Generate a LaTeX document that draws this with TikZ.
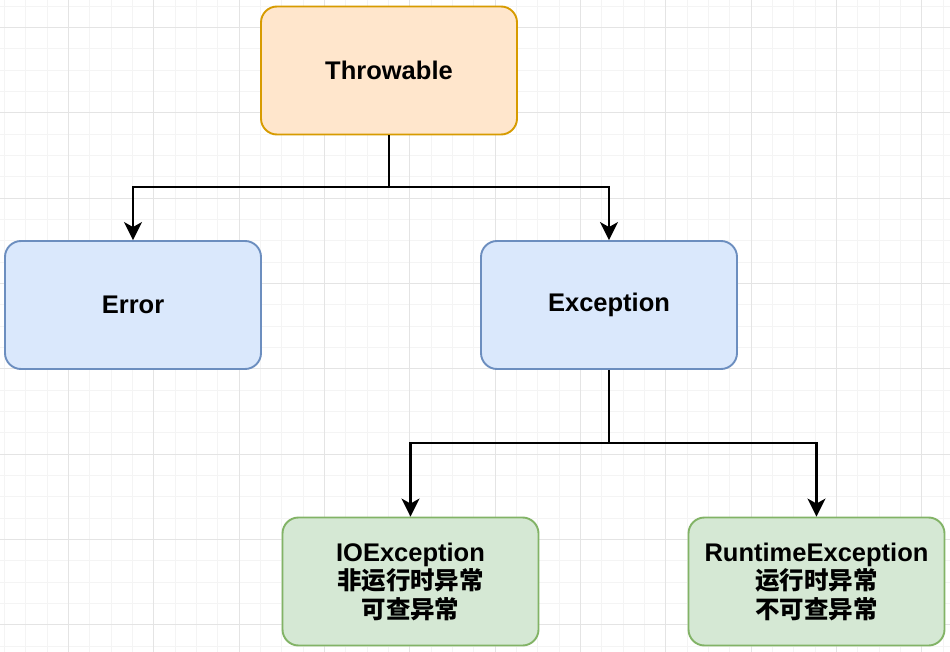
\documentclass[tikz,border=0pt]{standalone}
\usepackage{fontspec}
\setmainfont{Liberation Sans}
\newfontfamily\cjk[Scale=0.96]{Noto Sans CJK SC}
\usetikzlibrary{arrows.meta,positioning}

\definecolor{thrfill}{HTML}{FFE6CC}
\definecolor{thrline}{HTML}{D79B00}
\definecolor{excfill}{HTML}{DAE8FC}
\definecolor{excline}{HTML}{6C8EBF}
\definecolor{subfill}{HTML}{D5E8D4}
\definecolor{subline}{HTML}{82B366}
\definecolor{minorgrid}{HTML}{F4F4F4}
\definecolor{majorgrid}{HTML}{E4E4E4}

\begin{document}
\begin{tikzpicture}[x=1pt, y=-1pt, >={Stealth[length=18pt, width=18pt, inset=5pt]}]
      \tikzset{
	  classbox/.style={rectangle, rounded corners=16pt, line width=1.9pt, minimum width=256pt, minimum height=128pt, inner sep=0pt, align=center, font=\fontsize{25.5}{28.5}\selectfont\bfseries},
	  rootclass/.style={classbox, draw=thrline, fill=thrfill},
	  topclass/.style={classbox, draw=excline, fill=excfill},
	  subclass/.style={classbox, draw=subline, fill=subfill},
	  inherit/.style={line width=2.1pt, black},
      }
      \useasboundingbox (0,0) rectangle (950,652);
      \fill [white] (0,0) rectangle (950,652);

      % background grid
      \foreach \gx in {4.333,25.667,...,950} \draw [minorgrid, line width=0.9pt] (\gx,0) -- (\gx,652);
      \foreach \gy in {6,27.333,...,652} \draw [minorgrid, line width=0.9pt] (0,\gy) -- (950,\gy);
      \foreach \gx in {68.333,153.667,...,950} \draw [majorgrid, line width=0.9pt] (\gx,0) -- (\gx,652);
      \foreach \gy in {27.333,112.667,...,652} \draw [majorgrid, line width=0.9pt] (0,\gy) -- (950,\gy);

      \node (thr) at (389, 70.5) [rootclass] {Throwable};
      \node (err) at (133, 305) [topclass] {Error};
      \node (exc) at (609, 305) [topclass] {Exception};
      \node (ioe) at (410.5, 581.5) [subclass] {IOException\\{\cjk 非运行时异常}\\{\cjk 可查异常}};
      \node (rte) at (816.5, 581.5) [subclass] {RuntimeException\\{\cjk 运行时异常}\\{\cjk 不可查异常}};

      \coordinate (thrjoin) at (thr.south |- 0,187);
      \coordinate (excjoin) at (exc.south |- 0,443);
      \draw [inherit] (thr.south) -- (thrjoin);
      \draw [inherit,->] (thrjoin) -| (err.north);
      \draw [inherit,->] (thrjoin) -| (exc.north);
      \draw [inherit] (exc.south) -- (excjoin);
      \draw [inherit,->] (excjoin) -| (ioe.north);
      \draw [inherit,->] (excjoin) -| (rte.north);
\end{tikzpicture}
\end{document}
